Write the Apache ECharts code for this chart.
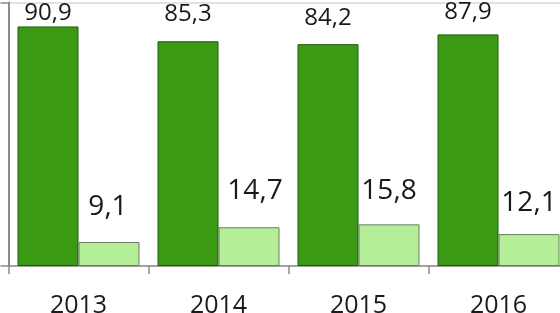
<!DOCTYPE html>
<html>
<head>
<meta charset="utf-8">
<script src="https://cdn.jsdelivr.net/npm/echarts@6/dist/echarts.min.js"></script>
<style>
html,body{margin:0;padding:0;background:#fff;}
#chart{width:560px;height:313px;}
</style>
</head>
<body>
<div id="chart"></div>
<script>
// Data
const categories = ['2013', '2014', '2015', '2016'];
const darkValues = [90.9, 85.3, 84.2, 87.9];
const lightValues = [9.1, 14.7, 15.8, 12.1];
const yTicks = [0, 100];

// Label styling (gaps above bar tops, horizontal nudges)
const darkLabelGap = [1, 15, 14, 10];
const lightLabelGap = [21, 22, 19, 17];
const lightLabelDx = [-1, 6, 0, 0];

const fmt = v => String(v.toFixed(1)).replace('.', ',');

const chart = echarts.init(document.getElementById('chart'), null, {renderer: 'canvas'});
chart.setOption({
  animation: false,
  backgroundColor: '#ffffff',
  grid: {left: 8.5, top: 2.5, right: -8.5, bottom: 47, containLabel: false, outerBoundsMode: 'none'},
  xAxis: {
    type: 'category',
    data: categories,
    axisLine: {lineStyle: {color: '#8c8c8c', width: 1.5}},
    axisTick: {show: true, length: 8, alignWithLabel: false, lineStyle: {color: '#8c8c8c', width: 1.5}},
    axisLabel: {color: '#1a1a1a', fontFamily: 'Open Sans', fontSize: 25, margin: 27}
  },
  yAxis: {
    type: 'value',
    min: yTicks[0],
    max: yTicks[yTicks.length - 1],
    interval: yTicks[1] - yTicks[0],
    axisLine: {show: true, lineStyle: {color: '#8c8c8c', width: 2}},
    axisTick: {show: true, length: 8, lineStyle: {color: '#8c8c8c', width: 1.5}},
    axisLabel: {show: false},
    splitLine: {show: true, lineStyle: {color: '#d9d9d9', width: 1.5}}
  },
  series: [
    {
      type: 'bar',
      barWidth: 61,
      barGap: '0%',
      data: darkValues.map((v, i) => ({
        value: v,
        label: {distance: darkLabelGap[i]}
      })),
      itemStyle: {color: '#3a9a14', borderColor: '#1f5a0c', borderWidth: 1},
      label: {
        show: true, position: 'top', color: '#1a1a1a',
        fontFamily: 'Open Sans', fontSize: 24,
        formatter: p => fmt(p.value)
      }
    },
    {
      type: 'bar',
      barWidth: 61,
      barGap: '0%',
      data: lightValues.map((v, i) => ({
        value: v,
        label: {distance: lightLabelGap[i], offset: [lightLabelDx[i], 0]}
      })),
      itemStyle: {color: '#b5ee98', borderColor: '#6a7d5e', borderWidth: 1},
      label: {
        show: true, position: 'top', color: '#1a1a1a',
        fontFamily: 'Open Sans', fontSize: 28,
        formatter: p => fmt(p.value)
      }
    }
  ]
});
</script>
</body>
</html>
